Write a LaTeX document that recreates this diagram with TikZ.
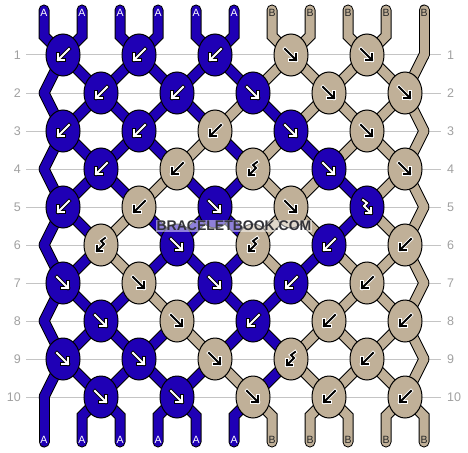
\documentclass[tikz,border=0pt]{standalone}
\usepackage{fontspec}
\setmainfont{Liberation Sans}
\usetikzlibrary{shapes.geometric,backgrounds}

\definecolor{colA}{RGB}{31,0,181}
\definecolor{colB}{RGB}{192,176,152}
\definecolor{rulegrey}{RGB}{196,196,196}
\definecolor{numgrey}{RGB}{160,160,160}
\definecolor{markgrey}{RGB}{50,50,56}
\colorlet{glyphfgA}{white}
\colorlet{glyphbgA}{black}
\colorlet{glyphfgB}{black}
\colorlet{glyphbgB}{white}
\colorlet{tagA}{white}
\colorlet{tagB}{black!85}

% point of thread #3 at row #2 (row 0 = top ends, row 11 = bottom ends)
\newcommand\strandpt[3]{%
  \ifnum#2=0 \edef#1{(t#3) -- (u#3)}%
  \else\ifnum#2=11 \edef#1{(v#3) -- (b#3)}%
  \else\ifodd#2
    \ifnum#3=10 \edef#1{(z#2)}\else\pgfmathtruncatemacro\sj{#3/2}\edef#1{(k#2-\sj.center)}\fi
  \else
    \ifnum#3=0 \edef#1{(z#2)}\else\pgfmathtruncatemacro\sj{(#3-1)/2}\edef#1{(k#2-\sj.center)}\fi
  \fi\fi\fi}

\begin{document}
\begin{tikzpicture}[x=1pt,y=-1pt,
  knot/.style={ellipse,draw=black,line width=1,minimum width=34,minimum height=42,inner sep=0},
  strandedge/.style={line width=11,line cap=round,black},
  strandfill/.style={line width=9,line cap=round},
  rownum/.style={text=numgrey,font=\fontsize{12.5}{14}\selectfont,inner sep=0},
  endtag/.style={font=\fontsize{10.5}{11}\selectfont,inner sep=0},
  marktext/.style={font=\bfseries\fontsize{14}{15}\selectfont,inner sep=1,fill=white,fill opacity=0.5,text opacity=1},
  pics/glyph/.style args={#1/#2}{code={
    \foreach \gw/\gc in {3.8/glyphbg#2,1.8/glyphfg#2}{
      \ifnum#1=0
        \draw[draw=\gc,line width=\gw,line cap=rect] (-6,-6) -- (5,5) (5,-1) -- (5,5) -- (-1,5);
      \else
        \draw[draw=\gc,line width=\gw,line cap=rect] (-4,-7) -- (0,-4) -- (-3,-1) -- (4,6) (4,1) -- (4,6) -- (-1,6);
      \fi}}}]
\useasboundingbox (0,0) rectangle (468,452);

% thread ends and side bends
\foreach \p in {0,...,10}{
  \coordinate (t\p) at ({44+38*\p},10);
  \coordinate (u\p) at ({44+38*\p},36);
  \coordinate (v\p) at ({44+38*\p},416);
  \coordinate (b\p) at ({44+38*\p},442);
}
\foreach \r in {1,...,10}
  \coordinate (z\r) at ({44+380*mod(\r,2)},{17+38*\r});

% knots: xscale/hook/colour
\foreach \r/\lst in {
  1/{-1/0/A,-1/0/A,-1/0/A,1/0/B,1/0/B},
  2/{-1/0/A,-1/0/A,1/0/A,1/0/B,1/0/B},
  3/{-1/0/A,-1/0/A,-1/0/B,1/0/A,1/0/B},
  4/{-1/0/A,-1/0/B,-1/1/B,1/0/A,1/0/B},
  5/{-1/0/A,-1/0/B,1/0/A,1/0/B,1/1/A},
  6/{-1/1/B,1/0/A,-1/1/B,-1/0/A,-1/0/B},
  7/{1/0/A,1/0/B,1/0/A,-1/0/A,-1/0/B},
  8/{1/0/A,1/0/B,-1/0/A,-1/0/B,-1/0/B},
  9/{1/0/A,1/0/A,1/0/B,-1/1/B,-1/0/B},
  10/{1/0/A,1/0/A,1/0/B,-1/0/B,-1/0/B}}{
  \foreach \sx/\hk/\kc [count=\j from 0] in \lst{
    \node[knot,fill=col\kc] (k\r-\j) at ({63+38*(1-mod(\r,2))+76*\j},{17+38*\r}) {};
    \pic[xscale=\sx] at (k\r-\j) {glyph=\hk/\kc};
  }
}

\begin{pgfonlayer}{background}
\foreach \r in {1,...,10}
  \draw[rulegrey,line width=1] (26,{17+38*\r}) -- (441,{17+38*\r});
% threads, colour of each position after row \r
\foreach \ly in {0,1}
\foreach \r/\lst in {
  0/{A,A,A,A,A,A,B,B,B,B,B},
  1/{A,A,A,A,A,A,B,B,B,B,B},
  2/{A,A,A,A,A,B,A,B,B,B,B},
  3/{A,A,A,A,B,A,B,A,B,B,B},
  4/{A,A,A,B,A,A,B,B,A,B,B},
  5/{A,A,B,A,A,A,B,B,A,B,B},
  6/{A,A,B,A,A,A,B,A,B,B,B},
  7/{A,A,A,B,A,A,A,B,B,B,B},
  8/{A,A,A,A,B,A,A,B,B,B,B},
  9/{A,A,A,A,A,B,A,B,B,B,B},
  10/{A,A,A,A,A,A,B,B,B,B,B}}{
  \pgfmathtruncatemacro\rn{\r+1}
  \foreach \kc [count=\p from 0] in \lst{
    \strandpt\sega{\r}{\p}
    \strandpt\segb{\rn}{\p}
    \ifnum\ly=0
      \draw[strandedge] \sega -- \segb;
    \else
      \draw[strandfill,col\kc] \sega -- \segb;
    \fi
  }
}
\end{pgfonlayer}

\node[marktext,text=markgrey] (mark) at (234,226) {BRACELETBOOK.COM};

\foreach \kc [count=\p from 0] in {A,A,A,A,A,A,B,B,B,B,B}{
  \node[endtag,text=tag\kc] (top\p) at ({44+38*\p},13) {\kc};
  \node[endtag,text=tag\kc] (bot\p) at ({44+38*\p},440) {\kc};
}
\foreach \r in {1,...,10}{
  \node[rownum,anchor=east] (nl\r) at (21,{17+38*\r}) {\r};
  \node[rownum,anchor=west] (nr\r) at (447,{17+38*\r}) {\r};
}
\end{tikzpicture}
\end{document}
